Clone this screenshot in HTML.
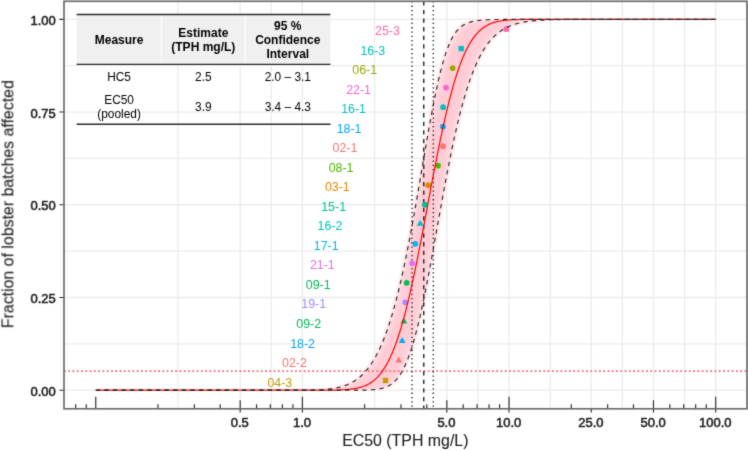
<!DOCTYPE html>
<html><head><meta charset="utf-8"><style>
html,body{margin:0;padding:0;background:#fff;}
body{width:748px;height:451px;overflow:hidden;}
svg{display:block;font-family:"Liberation Sans",sans-serif;}
</style></head><body>
<svg width="748" height="451" viewBox="0 0 748 451">
<defs><clipPath id="pc"><rect x="64.00" y="1.30" width="683.00" height="407.50"/></clipPath>
<filter id="bl" x="-20%" y="-20%" width="140%" height="140%"><feGaussianBlur stdDeviation="1.5"/></filter>
<filter id="bl2" x="-20%" y="-20%" width="140%" height="140%"><feGaussianBlur stdDeviation="2.0"/></filter>
<clipPath id="rc"><rect x="0" y="19.00" width="748" height="371.50"/></clipPath>
<filter id="gb" x="0" y="0" width="748" height="451" filterUnits="userSpaceOnUse" color-interpolation-filters="sRGB"><feConvolveMatrix order="3" kernelMatrix="1 6 1 6 36 6 1 6 1" divisor="64" edgeMode="duplicate"/></filter></defs>
<g filter="url(#gb)">
<rect width="748" height="451" fill="#fff"/>
<g clip-path="url(#pc)">
<line x1="177.98" y1="1.3" x2="177.98" y2="408.8" stroke="#EBEBEB" stroke-width="1.25"/>
<line x1="271.30" y1="1.3" x2="271.30" y2="408.8" stroke="#EBEBEB" stroke-width="1.25"/>
<line x1="374.62" y1="1.3" x2="374.62" y2="408.8" stroke="#EBEBEB" stroke-width="1.25"/>
<line x1="477.95" y1="1.3" x2="477.95" y2="408.8" stroke="#EBEBEB" stroke-width="1.25"/>
<line x1="550.17" y1="1.3" x2="550.17" y2="408.8" stroke="#EBEBEB" stroke-width="1.25"/>
<line x1="622.39" y1="1.3" x2="622.39" y2="408.8" stroke="#EBEBEB" stroke-width="1.25"/>
<line x1="684.60" y1="1.3" x2="684.60" y2="408.8" stroke="#EBEBEB" stroke-width="1.25"/>
<line x1="64.0" y1="343.84" x2="747.0" y2="343.84" stroke="#EBEBEB" stroke-width="1.25"/>
<line x1="64.0" y1="251.11" x2="747.0" y2="251.11" stroke="#EBEBEB" stroke-width="1.25"/>
<line x1="64.0" y1="158.39" x2="747.0" y2="158.39" stroke="#EBEBEB" stroke-width="1.25"/>
<line x1="64.0" y1="65.66" x2="747.0" y2="65.66" stroke="#EBEBEB" stroke-width="1.25"/>
<line x1="240.19" y1="1.3" x2="240.19" y2="408.8" stroke="#EBEBEB" stroke-width="1.3"/>
<line x1="302.40" y1="1.3" x2="302.40" y2="408.8" stroke="#EBEBEB" stroke-width="1.3"/>
<line x1="446.84" y1="1.3" x2="446.84" y2="408.8" stroke="#EBEBEB" stroke-width="1.3"/>
<line x1="509.05" y1="1.3" x2="509.05" y2="408.8" stroke="#EBEBEB" stroke-width="1.3"/>
<line x1="591.28" y1="1.3" x2="591.28" y2="408.8" stroke="#EBEBEB" stroke-width="1.3"/>
<line x1="653.49" y1="1.3" x2="653.49" y2="408.8" stroke="#EBEBEB" stroke-width="1.3"/>
<line x1="715.70" y1="1.3" x2="715.70" y2="408.8" stroke="#EBEBEB" stroke-width="1.3"/>
<line x1="64.0" y1="390.20" x2="747.0" y2="390.20" stroke="#EBEBEB" stroke-width="1.3"/>
<line x1="64.0" y1="297.48" x2="747.0" y2="297.48" stroke="#EBEBEB" stroke-width="1.3"/>
<line x1="64.0" y1="204.75" x2="747.0" y2="204.75" stroke="#EBEBEB" stroke-width="1.3"/>
<line x1="64.0" y1="112.03" x2="747.0" y2="112.03" stroke="#EBEBEB" stroke-width="1.3"/>
<line x1="64.0" y1="19.30" x2="747.0" y2="19.30" stroke="#EBEBEB" stroke-width="1.3"/>
<g clip-path="url(#rc)">
<path d="M306.46,390.14 L306.87,390.14 L307.28,390.13 L307.71,390.12 L308.15,390.11 L308.60,390.11 L309.06,390.10 L309.54,390.09 L310.03,390.08 L310.53,390.07 L311.04,390.06 L311.56,390.04 L312.09,390.03 L312.63,390.01 L313.18,390.00 L313.74,389.98 L314.32,389.96 L314.90,389.94 L315.49,389.91 L316.09,389.89 L316.69,389.86 L317.31,389.83 L317.94,389.80 L318.57,389.77 L319.21,389.73 L319.86,389.70 L320.52,389.65 L321.18,389.61 L321.85,389.56 L322.53,389.51 L323.22,389.46 L323.91,389.40 L324.61,389.34 L325.31,389.27 L326.03,389.20 L326.74,389.12 L327.47,389.04 L328.19,388.95 L328.93,388.85 L329.67,388.75 L330.41,388.65 L331.16,388.53 L331.92,388.41 L332.67,388.28 L333.44,388.15 L334.20,388.00 L334.97,387.85 L335.75,387.68 L336.53,387.51 L337.31,387.32 L338.10,387.13 L338.88,386.92 L339.68,386.70 L340.47,386.47 L341.27,386.22 L342.07,385.96 L342.87,385.68 L343.68,385.39 L344.48,385.09 L345.29,384.76 L346.10,384.42 L346.92,384.07 L347.73,383.69 L348.55,383.29 L349.36,382.87 L350.18,382.43 L351.00,381.97 L351.82,381.49 L352.65,380.98 L353.47,380.45 L354.29,379.89 L355.11,379.31 L355.94,378.70 L356.76,378.06 L357.59,377.39 L358.41,376.70 L359.23,375.97 L360.06,375.21 L360.88,374.42 L361.71,373.59 L362.53,372.73 L363.35,371.83 L364.17,370.90 L364.99,369.93 L365.81,368.92 L366.63,367.88 L367.45,366.79 L368.26,365.66 L369.08,364.49 L369.89,363.28 L370.70,362.03 L371.51,360.73 L372.32,359.38 L373.13,357.99 L373.93,356.56 L374.74,355.08 L375.54,353.55 L376.34,351.97 L377.13,350.34 L377.93,348.67 L378.72,346.94 L379.51,345.16 L380.30,343.34 L381.08,341.46 L381.86,339.53 L382.64,337.55 L383.42,335.52 L384.20,333.43 L384.97,331.29 L385.74,329.11 L386.50,326.87 L387.27,324.57 L388.02,322.23 L388.78,319.83 L389.54,317.39 L390.29,314.89 L391.03,312.34 L391.78,309.74 L392.52,307.09 L393.26,304.40 L393.99,301.65 L394.72,298.86 L395.45,296.02 L396.17,293.14 L396.89,290.21 L397.61,287.24 L398.32,284.22 L399.03,281.16 L399.74,278.07 L400.44,274.93 L401.14,271.76 L401.83,268.55 L402.52,265.31 L403.21,262.03 L403.90,258.72 L404.58,255.38 L405.25,252.02 L405.93,248.63 L406.59,245.21 L407.26,241.77 L407.92,238.31 L408.58,234.83 L409.23,231.33 L409.88,227.82 L410.53,224.29 L411.17,220.75 L411.81,217.21 L412.45,213.65 L413.08,210.09 L413.71,206.53 L414.33,202.97 L414.95,199.41 L415.57,195.85 L416.18,192.29 L416.79,188.75 L417.40,185.21 L418.00,181.68 L418.60,178.17 L419.20,174.67 L419.79,171.19 L420.38,167.73 L420.96,164.29 L421.54,160.87 L422.12,157.48 L422.70,154.12 L423.27,150.78 L423.84,147.47 L424.40,144.19 L424.96,140.95 L425.52,137.74 L426.08,134.57 L426.63,131.43 L427.18,128.34 L427.73,125.28 L428.28,122.26 L428.82,119.29 L429.36,116.36 L429.89,113.48 L430.43,110.64 L430.96,107.85 L431.49,105.10 L432.01,102.41 L432.54,99.76 L433.06,97.16 L433.58,94.61 L434.10,92.11 L434.61,89.67 L435.12,87.27 L435.64,84.93 L436.15,82.63 L436.65,80.39 L437.16,78.21 L437.67,76.07 L438.17,73.98 L438.67,71.95 L439.17,69.97 L439.67,68.04 L440.17,66.16 L440.67,64.34 L441.17,62.56 L441.66,60.83 L442.16,59.16 L442.65,57.53 L443.15,55.95 L443.64,54.42 L444.13,52.94 L444.63,51.51 L445.12,50.12 L445.61,48.77 L446.11,47.47 L446.60,46.22 L447.10,45.01 L447.59,43.84 L448.09,42.71 L448.58,41.62 L449.08,40.58 L449.58,39.57 L450.08,38.60 L450.58,37.67 L451.08,36.77 L451.59,35.91 L452.09,35.08 L452.60,34.29 L453.11,33.53 L453.62,32.80 L454.13,32.11 L454.65,31.44 L455.17,30.80 L455.69,30.19 L456.22,29.61 L456.74,29.05 L457.27,28.52 L457.81,28.01 L458.35,27.53 L458.89,27.07 L459.43,26.63 L459.98,26.21 L460.53,25.81 L461.09,25.43 L461.65,25.08 L462.22,24.74 L462.79,24.41 L463.37,24.11 L463.95,23.82 L464.53,23.54 L465.13,23.28 L465.72,23.03 L466.33,22.80 L466.94,22.58 L467.55,22.37 L468.18,22.18 L468.80,21.99 L469.44,21.82 L470.08,21.65 L470.73,21.50 L471.39,21.35 L472.06,21.22 L472.73,21.09 L473.41,20.97 L474.10,20.85 L474.79,20.75 L475.50,20.65 L476.21,20.55 L476.94,20.46 L477.67,20.38 L478.41,20.30 L479.16,20.23 L479.92,20.16 L480.70,20.10 L481.48,20.04 L482.27,19.99 L483.07,19.94 L483.89,19.89 L484.71,19.85 L485.55,19.80 L486.40,19.77 L487.26,19.73 L488.13,19.70 L489.01,19.67 L489.91,19.64 L490.82,19.61 L491.74,19.59 L492.68,19.56 L493.63,19.54 L494.59,19.52 L495.57,19.50 L496.56,19.49 L497.56,19.47 L498.58,19.46 L499.62,19.44 L500.67,19.43 L501.74,19.42 L502.82,19.41 L503.92,19.40 L505.03,19.39 L506.16,19.39 L507.31,19.38 L508.48,19.37 L509.66,19.36 L510.86,19.36 L582.50,19.36 L581.19,19.36 L579.88,19.37 L578.59,19.38 L577.30,19.39 L576.01,19.39 L574.73,19.40 L573.46,19.41 L572.19,19.42 L570.93,19.43 L569.68,19.44 L568.43,19.46 L567.19,19.47 L565.95,19.49 L564.72,19.50 L563.50,19.52 L562.28,19.54 L561.06,19.56 L559.86,19.59 L558.66,19.61 L557.46,19.64 L556.27,19.67 L555.09,19.70 L553.91,19.73 L552.74,19.77 L551.58,19.80 L550.42,19.85 L549.26,19.89 L548.11,19.94 L546.97,19.99 L545.83,20.04 L544.70,20.10 L543.57,20.16 L542.45,20.23 L541.34,20.30 L540.23,20.38 L539.12,20.46 L538.03,20.55 L536.93,20.65 L535.84,20.75 L534.76,20.85 L533.68,20.97 L532.61,21.09 L531.55,21.22 L530.48,21.35 L529.43,21.50 L528.38,21.65 L527.33,21.82 L526.29,21.99 L525.25,22.18 L524.22,22.37 L523.20,22.58 L522.18,22.80 L521.16,23.03 L520.15,23.28 L519.15,23.54 L518.15,23.82 L517.15,24.11 L516.16,24.41 L515.18,24.74 L514.20,25.08 L513.22,25.43 L512.25,25.81 L511.28,26.21 L510.32,26.63 L509.36,27.07 L508.41,27.53 L507.46,28.01 L506.52,28.52 L505.58,29.05 L504.65,29.61 L503.72,30.19 L502.80,30.80 L501.88,31.44 L500.96,32.11 L500.05,32.80 L499.14,33.53 L498.24,34.29 L497.35,35.08 L496.45,35.91 L495.56,36.77 L494.68,37.67 L493.80,38.60 L492.92,39.57 L492.05,40.58 L491.19,41.62 L490.32,42.71 L489.46,43.84 L488.61,45.01 L487.76,46.22 L486.91,47.47 L486.07,48.77 L485.23,50.12 L484.40,51.51 L483.57,52.94 L482.74,54.42 L481.92,55.95 L481.10,57.53 L480.29,59.16 L479.48,60.83 L478.67,62.56 L477.87,64.34 L477.07,66.16 L476.27,68.04 L475.48,69.97 L474.69,71.95 L473.91,73.98 L473.13,76.07 L472.35,78.21 L471.58,80.39 L470.81,82.63 L470.04,84.93 L469.28,87.27 L468.52,89.67 L467.77,92.11 L467.02,94.61 L466.27,97.16 L465.52,99.76 L464.78,102.41 L464.04,105.10 L463.31,107.85 L462.58,110.64 L461.85,113.48 L461.13,116.36 L460.41,119.29 L459.69,122.26 L458.97,125.28 L458.26,128.34 L457.55,131.43 L456.85,134.57 L456.15,137.74 L455.45,140.95 L454.75,144.19 L454.06,147.47 L453.37,150.78 L452.68,154.12 L452.00,157.48 L451.31,160.87 L450.64,164.29 L449.96,167.73 L449.29,171.19 L448.62,174.67 L447.95,178.17 L447.29,181.68 L446.63,185.21 L445.97,188.75 L445.31,192.29 L444.66,195.85 L444.01,199.41 L443.36,202.97 L442.72,206.53 L442.08,210.09 L441.44,213.65 L440.80,217.21 L440.16,220.75 L439.53,224.29 L438.90,227.82 L438.27,231.33 L437.65,234.83 L437.03,238.31 L436.41,241.77 L435.79,245.21 L435.17,248.63 L434.56,252.02 L433.95,255.38 L433.34,258.72 L432.73,262.03 L432.13,265.31 L431.53,268.55 L430.93,271.76 L430.33,274.93 L429.73,278.07 L429.14,281.16 L428.55,284.22 L427.96,287.24 L427.37,290.21 L426.78,293.14 L426.20,296.02 L425.62,298.86 L425.04,301.65 L424.46,304.40 L423.88,307.09 L423.31,309.74 L422.74,312.34 L422.17,314.89 L421.60,317.39 L421.03,319.83 L420.46,322.23 L419.90,324.57 L419.34,326.87 L418.78,329.11 L418.22,331.29 L417.66,333.43 L417.10,335.52 L416.55,337.55 L416.00,339.53 L415.45,341.46 L414.90,343.34 L414.35,345.16 L413.80,346.94 L413.25,348.67 L412.71,350.34 L412.17,351.97 L411.62,353.55 L411.08,355.08 L410.54,356.56 L410.01,357.99 L409.47,359.38 L408.93,360.73 L408.40,362.03 L407.87,363.28 L407.33,364.49 L406.80,365.66 L406.27,366.79 L405.74,367.88 L405.21,368.92 L404.69,369.93 L404.16,370.90 L403.63,371.83 L403.11,372.73 L402.59,373.59 L402.06,374.42 L401.54,375.21 L401.02,375.97 L400.50,376.70 L399.98,377.39 L399.46,378.06 L398.94,378.70 L398.43,379.31 L397.91,379.89 L397.39,380.45 L396.88,380.98 L396.36,381.49 L395.85,381.97 L395.33,382.43 L394.82,382.87 L394.31,383.29 L393.79,383.69 L393.28,384.07 L392.77,384.42 L392.26,384.76 L391.75,385.09 L391.24,385.39 L390.73,385.68 L390.22,385.96 L389.71,386.22 L389.20,386.47 L388.69,386.70 L388.18,386.92 L387.67,387.13 L387.16,387.32 L386.65,387.51 L386.14,387.68 L385.63,387.85 L385.13,388.00 L384.62,388.15 L384.11,388.28 L383.60,388.41 L383.09,388.53 L382.58,388.65 L382.07,388.75 L381.56,388.85 L381.05,388.95 L380.54,389.04 L380.04,389.12 L379.52,389.20 L379.01,389.27 L378.50,389.34 L377.99,389.40 L377.48,389.46 L376.97,389.51 L376.46,389.56 L375.95,389.61 L375.43,389.65 L374.92,389.70 L374.41,389.73 L373.89,389.77 L373.38,389.80 L372.86,389.83 L372.34,389.86 L371.83,389.89 L371.31,389.91 L370.79,389.94 L370.27,389.96 L369.75,389.98 L369.23,390.00 L368.71,390.01 L368.19,390.03 L367.67,390.04 L367.14,390.06 L366.62,390.07 L366.09,390.08 L365.57,390.09 L365.04,390.10 L364.51,390.11 L363.98,390.11 L363.45,390.12 L362.92,390.13 L362.39,390.14 L361.86,390.14Z" fill="#FFE2E7" filter="url(#bl)"/>
<path d="M311.18,390.14 L311.62,390.14 L312.08,390.13 L312.54,390.12 L313.02,390.11 L313.50,390.11 L314.00,390.10 L314.50,390.09 L315.02,390.08 L315.54,390.07 L316.07,390.06 L316.62,390.04 L317.17,390.03 L317.73,390.01 L318.30,390.00 L318.88,389.98 L319.46,389.96 L320.06,389.94 L320.66,389.91 L321.27,389.89 L321.89,389.86 L322.51,389.83 L323.14,389.80 L323.78,389.77 L324.43,389.73 L325.08,389.70 L325.74,389.65 L326.40,389.61 L327.07,389.56 L327.75,389.51 L328.43,389.46 L329.12,389.40 L329.82,389.34 L330.52,389.27 L331.22,389.20 L331.93,389.12 L332.65,389.04 L333.37,388.95 L334.09,388.85 L334.82,388.75 L335.55,388.65 L336.29,388.53 L337.03,388.41 L337.78,388.28 L338.52,388.15 L339.28,388.00 L340.03,387.85 L340.79,387.68 L341.55,387.51 L342.32,387.32 L343.09,387.13 L343.86,386.92 L344.63,386.70 L345.41,386.47 L346.19,386.22 L346.97,385.96 L347.75,385.68 L348.53,385.39 L349.32,385.09 L350.11,384.76 L350.90,384.42 L351.69,384.07 L352.48,383.69 L353.28,383.29 L354.07,382.87 L354.87,382.43 L355.66,381.97 L356.46,381.49 L357.26,380.98 L358.06,380.45 L358.86,379.89 L359.66,379.31 L360.46,378.70 L361.26,378.06 L362.06,377.39 L362.86,376.70 L363.66,375.97 L364.47,375.21 L365.27,374.42 L366.07,373.59 L366.87,372.73 L367.66,371.83 L368.46,370.90 L369.26,369.93 L370.06,368.92 L370.85,367.88 L371.65,366.79 L372.44,365.66 L373.24,364.49 L374.03,363.28 L374.82,362.03 L375.61,360.73 L376.39,359.38 L377.18,357.99 L377.96,356.56 L378.75,355.08 L379.53,353.55 L380.31,351.97 L381.09,350.34 L381.86,348.67 L382.64,346.94 L383.41,345.16 L384.18,343.34 L384.94,341.46 L385.71,339.53 L386.47,337.55 L387.23,335.52 L387.99,333.43 L388.75,331.29 L389.50,329.11 L390.25,326.87 L391.00,324.57 L391.75,322.23 L392.49,319.83 L393.23,317.39 L393.97,314.89 L394.71,312.34 L395.44,309.74 L396.17,307.09 L396.90,304.40 L397.62,301.65 L398.34,298.86 L399.06,296.02 L399.78,293.14 L400.49,290.21 L401.20,287.24 L401.91,284.22 L402.61,281.16 L403.31,278.07 L404.01,274.93 L404.70,271.76 L405.39,268.55 L406.08,265.31 L406.77,262.03 L407.45,258.72 L408.13,255.38 L408.80,252.02 L409.47,248.63 L410.14,245.21 L410.81,241.77 L411.47,238.31 L412.13,234.83 L412.79,231.33 L413.44,227.82 L414.09,224.29 L414.74,220.75 L415.38,217.21 L416.02,213.65 L416.66,210.09 L417.29,206.53 L417.92,202.97 L418.55,199.41 L419.18,195.85 L419.80,192.29 L420.42,188.75 L421.03,185.21 L421.64,181.68 L422.25,178.17 L422.86,174.67 L423.46,171.19 L424.06,167.73 L424.66,164.29 L425.26,160.87 L425.85,157.48 L426.44,154.12 L427.02,150.78 L427.61,147.47 L428.19,144.19 L428.77,140.95 L429.34,137.74 L429.92,134.57 L430.49,131.43 L431.06,128.34 L431.62,125.28 L432.18,122.26 L432.74,119.29 L433.30,116.36 L433.86,113.48 L434.41,110.64 L434.97,107.85 L435.52,105.10 L436.06,102.41 L436.61,99.76 L437.15,97.16 L437.70,94.61 L438.24,92.11 L438.77,89.67 L439.31,87.27 L439.85,84.93 L440.38,82.63 L440.91,80.39 L441.44,78.21 L441.97,76.07 L442.50,73.98 L443.03,71.95 L443.55,69.97 L444.08,68.04 L444.60,66.16 L445.13,64.34 L445.65,62.56 L446.17,60.83 L446.69,59.16 L447.21,57.53 L447.73,55.95 L448.25,54.42 L448.77,52.94 L449.29,51.51 L449.81,50.12 L450.33,48.77 L450.85,47.47 L451.37,46.22 L451.90,45.01 L452.42,43.84 L452.94,42.71 L453.46,41.62 L453.98,40.58 L454.51,39.57 L455.03,38.60 L455.56,37.67 L456.09,36.77 L456.62,35.91 L457.15,35.08 L457.68,34.29 L458.21,33.53 L458.75,32.80 L459.28,32.11 L459.82,31.44 L460.36,30.80 L460.91,30.19 L461.45,29.61 L462.00,29.05 L462.55,28.52 L463.11,28.01 L463.67,27.53 L464.23,27.07 L464.79,26.63 L465.36,26.21 L465.93,25.81 L466.50,25.43 L467.08,25.08 L467.66,24.74 L468.25,24.41 L468.84,24.11 L469.43,23.82 L470.03,23.54 L470.63,23.28 L471.24,23.03 L471.86,22.80 L472.47,22.58 L473.10,22.37 L473.73,22.18 L474.36,21.99 L475.00,21.82 L475.65,21.65 L476.30,21.50 L476.96,21.35 L477.63,21.22 L478.30,21.09 L478.98,20.97 L479.66,20.85 L480.36,20.75 L481.06,20.65 L481.76,20.55 L482.48,20.46 L483.20,20.38 L483.93,20.30 L484.67,20.23 L485.42,20.16 L486.18,20.10 L486.94,20.04 L487.71,19.99 L488.50,19.94 L489.29,19.89 L490.09,19.85 L490.90,19.80 L491.72,19.77 L492.55,19.73 L493.40,19.70 L494.25,19.67 L495.11,19.64 L495.98,19.61 L496.87,19.59 L497.76,19.56 L498.67,19.54 L499.59,19.52 L500.52,19.50 L501.46,19.49 L502.42,19.47 L503.39,19.46 L504.37,19.44 L505.36,19.43 L506.37,19.42 L507.39,19.41 L508.42,19.40 L509.47,19.39 L510.53,19.39 L511.61,19.38 L512.70,19.37 L513.80,19.36 L514.92,19.36 L572.76,19.36 L571.55,19.36 L570.34,19.37 L569.13,19.38 L567.93,19.39 L566.74,19.39 L565.55,19.40 L564.37,19.41 L563.20,19.42 L562.02,19.43 L560.86,19.44 L559.70,19.46 L558.54,19.47 L557.39,19.49 L556.24,19.50 L555.10,19.52 L553.96,19.54 L552.83,19.56 L551.71,19.59 L550.59,19.61 L549.47,19.64 L548.36,19.67 L547.25,19.70 L546.15,19.73 L545.06,19.77 L543.97,19.80 L542.88,19.85 L541.80,19.89 L540.72,19.94 L539.65,19.99 L538.58,20.04 L537.52,20.10 L536.46,20.16 L535.41,20.23 L534.36,20.30 L533.32,20.38 L532.28,20.46 L531.24,20.55 L530.21,20.65 L529.19,20.75 L528.17,20.85 L527.15,20.97 L526.14,21.09 L525.13,21.22 L524.13,21.35 L523.13,21.50 L522.14,21.65 L521.15,21.82 L520.16,21.99 L519.18,22.18 L518.21,22.37 L517.24,22.58 L516.27,22.80 L515.30,23.03 L514.35,23.28 L513.39,23.54 L512.44,23.82 L511.49,24.11 L510.55,24.41 L509.61,24.74 L508.68,25.08 L507.75,25.43 L506.82,25.81 L505.90,26.21 L504.98,26.63 L504.07,27.07 L503.16,27.53 L502.26,28.01 L501.35,28.52 L500.46,29.05 L499.56,29.61 L498.67,30.19 L497.79,30.80 L496.90,31.44 L496.03,32.11 L495.15,32.80 L494.28,33.53 L493.41,34.29 L492.55,35.08 L491.69,35.91 L490.84,36.77 L489.98,37.67 L489.14,38.60 L488.29,39.57 L487.45,40.58 L486.61,41.62 L485.78,42.71 L484.95,43.84 L484.12,45.01 L483.30,46.22 L482.48,47.47 L481.66,48.77 L480.85,50.12 L480.04,51.51 L479.23,52.94 L478.43,54.42 L477.63,55.95 L476.84,57.53 L476.04,59.16 L475.25,60.83 L474.47,62.56 L473.69,64.34 L472.91,66.16 L472.13,68.04 L471.36,69.97 L470.59,71.95 L469.82,73.98 L469.06,76.07 L468.30,78.21 L467.54,80.39 L466.78,82.63 L466.03,84.93 L465.28,87.27 L464.54,89.67 L463.80,92.11 L463.06,94.61 L462.32,97.16 L461.59,99.76 L460.86,102.41 L460.13,105.10 L459.41,107.85 L458.68,110.64 L457.97,113.48 L457.25,116.36 L456.54,119.29 L455.82,122.26 L455.12,125.28 L454.41,128.34 L453.71,131.43 L453.01,134.57 L452.31,137.74 L451.62,140.95 L450.93,144.19 L450.24,147.47 L449.55,150.78 L448.86,154.12 L448.18,157.48 L447.50,160.87 L446.83,164.29 L446.15,167.73 L445.48,171.19 L444.81,174.67 L444.14,178.17 L443.48,181.68 L442.82,185.21 L442.16,188.75 L441.50,192.29 L440.84,195.85 L440.19,199.41 L439.54,202.97 L438.89,206.53 L438.24,210.09 L437.60,213.65 L436.96,217.21 L436.32,220.75 L435.68,224.29 L435.04,227.82 L434.41,231.33 L433.78,234.83 L433.15,238.31 L432.52,241.77 L431.90,245.21 L431.27,248.63 L430.65,252.02 L430.03,255.38 L429.41,258.72 L428.80,262.03 L428.18,265.31 L427.57,268.55 L426.96,271.76 L426.35,274.93 L425.75,278.07 L425.14,281.16 L424.54,284.22 L423.94,287.24 L423.34,290.21 L422.74,293.14 L422.14,296.02 L421.55,298.86 L420.95,301.65 L420.36,304.40 L419.77,307.09 L419.18,309.74 L418.60,312.34 L418.01,314.89 L417.43,317.39 L416.84,319.83 L416.26,322.23 L415.68,324.57 L415.10,326.87 L414.53,329.11 L413.95,331.29 L413.38,333.43 L412.80,335.52 L412.23,337.55 L411.66,339.53 L411.09,341.46 L410.53,343.34 L409.96,345.16 L409.39,346.94 L408.83,348.67 L408.27,350.34 L407.70,351.97 L407.14,353.55 L406.58,355.08 L406.02,356.56 L405.47,357.99 L404.91,359.38 L404.35,360.73 L403.80,362.03 L403.25,363.28 L402.69,364.49 L402.14,365.66 L401.59,366.79 L401.04,367.88 L400.49,368.92 L399.94,369.93 L399.39,370.90 L398.85,371.83 L398.30,372.73 L397.76,373.59 L397.21,374.42 L396.67,375.21 L396.12,375.97 L395.58,376.70 L395.04,377.39 L394.50,378.06 L393.96,378.70 L393.42,379.31 L392.88,379.89 L392.34,380.45 L391.80,380.98 L391.26,381.49 L390.72,381.97 L390.19,382.43 L389.65,382.87 L389.11,383.29 L388.58,383.69 L388.04,384.07 L387.50,384.42 L386.97,384.76 L386.44,385.09 L385.90,385.39 L385.37,385.68 L384.83,385.96 L384.30,386.22 L383.77,386.47 L383.23,386.70 L382.70,386.92 L382.17,387.13 L381.63,387.32 L381.10,387.51 L380.57,387.68 L380.03,387.85 L379.50,388.00 L378.97,388.15 L378.44,388.28 L377.90,388.41 L377.37,388.53 L376.84,388.65 L376.30,388.75 L375.77,388.85 L375.24,388.95 L374.70,389.04 L374.17,389.12 L373.64,389.20 L373.10,389.27 L372.57,389.34 L372.03,389.40 L371.50,389.46 L370.96,389.51 L370.43,389.56 L369.89,389.61 L369.36,389.65 L368.82,389.70 L368.28,389.73 L367.74,389.77 L367.21,389.80 L366.67,389.83 L366.13,389.86 L365.59,389.89 L365.05,389.91 L364.51,389.94 L363.97,389.96 L363.42,389.98 L362.88,390.00 L362.34,390.01 L361.79,390.03 L361.25,390.04 L360.70,390.06 L360.16,390.07 L359.61,390.08 L359.06,390.09 L358.52,390.10 L357.97,390.11 L357.42,390.11 L356.87,390.12 L356.31,390.13 L355.76,390.14 L355.21,390.14Z" fill="#FFCCD5" filter="url(#bl2)"/>
</g>
<line x1="64.0" y1="371.2" x2="747.0" y2="371.2" stroke="#FA5F6C" stroke-width="1.7" stroke-dasharray="1.7 2.58"/>
<line x1="412.0" y1="1.3" x2="412.0" y2="408.8" stroke="#222" stroke-width="1.4" stroke-dasharray="1.3 3.0"/>
<line x1="433.3" y1="1.3" x2="433.3" y2="408.8" stroke="#222" stroke-width="1.4" stroke-dasharray="1.3 3.0"/>
<line x1="423.75" y1="1.3" x2="423.75" y2="408.8" stroke="#222" stroke-width="1.4" stroke-dasharray="4.3 4.3"/>
<rect x="503.70" y="26.36" width="5.4" height="5.4" fill="#FF66A8"/>
<rect x="458.50" y="45.88" width="5.4" height="5.4" fill="#00BFC4"/>
<circle cx="452.70" cy="68.10" r="2.9" fill="#99A800"/>
<circle cx="446.10" cy="87.62" r="2.9" fill="#FB61D7"/>
<circle cx="443.10" cy="107.14" r="2.9" fill="#00BFC4"/>
<circle cx="442.90" cy="126.67" r="2.9" fill="#06A4FF"/>
<circle cx="443.00" cy="146.19" r="2.9" fill="#F8766D"/>
<circle cx="438.00" cy="165.71" r="2.9" fill="#53B400"/>
<circle cx="428.20" cy="185.23" r="2.9" fill="#E38900"/>
<circle cx="424.90" cy="204.75" r="2.9" fill="#00C094"/>
<path d="M420.20,219.77 L423.66,225.77 L416.74,225.77Z" fill="#00BFC4"/>
<circle cx="415.30" cy="243.79" r="2.9" fill="#00B6EB"/>
<circle cx="412.20" cy="263.31" r="2.9" fill="#DF70F8"/>
<circle cx="406.70" cy="282.83" r="2.9" fill="#00BC56"/>
<circle cx="405.30" cy="302.36" r="2.9" fill="#A58AFF"/>
<path d="M403.90,317.38 L407.36,323.38 L400.44,323.38Z" fill="#00BC56"/>
<path d="M402.20,336.90 L405.66,342.90 L398.74,342.90Z" fill="#06A4FF"/>
<path d="M398.80,356.42 L402.26,362.42 L395.34,362.42Z" fill="#F8766D"/>
<rect x="382.80" y="377.74" width="5.4" height="5.4" fill="#C49A00"/>
<path d="M95.75,390.20 L327.72,390.14 L328.39,390.14 L329.06,390.13 L329.73,390.12 L330.40,390.11 L331.07,390.11 L331.74,390.10 L332.40,390.09 L333.07,390.08 L333.74,390.07 L334.41,390.06 L335.08,390.04 L335.75,390.03 L336.42,390.01 L337.09,390.00 L337.76,389.98 L338.43,389.96 L339.09,389.94 L339.76,389.91 L340.43,389.89 L341.10,389.86 L341.77,389.83 L342.44,389.80 L343.11,389.77 L343.78,389.73 L344.45,389.70 L345.12,389.65 L345.79,389.61 L346.45,389.56 L347.12,389.51 L347.79,389.46 L348.46,389.40 L349.13,389.34 L349.80,389.27 L350.47,389.20 L351.14,389.12 L351.81,389.04 L352.48,388.95 L353.14,388.85 L353.81,388.75 L354.48,388.65 L355.15,388.53 L355.82,388.41 L356.49,388.28 L357.16,388.15 L357.83,388.00 L358.50,387.85 L359.17,387.68 L359.84,387.51 L360.50,387.32 L361.17,387.13 L361.84,386.92 L362.51,386.70 L363.18,386.47 L363.85,386.22 L364.52,385.96 L365.19,385.68 L365.86,385.39 L366.53,385.09 L367.19,384.76 L367.86,384.42 L368.53,384.07 L369.20,383.69 L369.87,383.29 L370.54,382.87 L371.21,382.43 L371.88,381.97 L372.55,381.49 L373.22,380.98 L373.89,380.45 L374.55,379.89 L375.22,379.31 L375.89,378.70 L376.56,378.06 L377.23,377.39 L377.90,376.70 L378.57,375.97 L379.24,375.21 L379.91,374.42 L380.58,373.59 L381.24,372.73 L381.91,371.83 L382.58,370.90 L383.25,369.93 L383.92,368.92 L384.59,367.88 L385.26,366.79 L385.93,365.66 L386.60,364.49 L387.27,363.28 L387.94,362.03 L388.60,360.73 L389.27,359.38 L389.94,357.99 L390.61,356.56 L391.28,355.08 L391.95,353.55 L392.62,351.97 L393.29,350.34 L393.96,348.67 L394.63,346.94 L395.29,345.16 L395.96,343.34 L396.63,341.46 L397.30,339.53 L397.97,337.55 L398.64,335.52 L399.31,333.43 L399.98,331.29 L400.65,329.11 L401.32,326.87 L401.99,324.57 L402.65,322.23 L403.32,319.83 L403.99,317.39 L404.66,314.89 L405.33,312.34 L406.00,309.74 L406.67,307.09 L407.34,304.40 L408.01,301.65 L408.68,298.86 L409.34,296.02 L410.01,293.14 L410.68,290.21 L411.35,287.24 L412.02,284.22 L412.69,281.16 L413.36,278.07 L414.03,274.93 L414.70,271.76 L415.37,268.55 L416.04,265.31 L416.70,262.03 L417.37,258.72 L418.04,255.38 L418.71,252.02 L419.38,248.63 L420.05,245.21 L420.72,241.77 L421.39,238.31 L422.06,234.83 L422.73,231.33 L423.39,227.82 L424.06,224.29 L424.73,220.75 L425.40,217.21 L426.07,213.65 L426.74,210.09 L427.41,206.53 L428.08,202.97 L428.75,199.41 L429.42,195.85 L430.09,192.29 L430.75,188.75 L431.42,185.21 L432.09,181.68 L432.76,178.17 L433.43,174.67 L434.10,171.19 L434.77,167.73 L435.44,164.29 L436.11,160.87 L436.78,157.48 L437.44,154.12 L438.11,150.78 L438.78,147.47 L439.45,144.19 L440.12,140.95 L440.79,137.74 L441.46,134.57 L442.13,131.43 L442.80,128.34 L443.47,125.28 L444.14,122.26 L444.80,119.29 L445.47,116.36 L446.14,113.48 L446.81,110.64 L447.48,107.85 L448.15,105.10 L448.82,102.41 L449.49,99.76 L450.16,97.16 L450.83,94.61 L451.49,92.11 L452.16,89.67 L452.83,87.27 L453.50,84.93 L454.17,82.63 L454.84,80.39 L455.51,78.21 L456.18,76.07 L456.85,73.98 L457.52,71.95 L458.19,69.97 L458.85,68.04 L459.52,66.16 L460.19,64.34 L460.86,62.56 L461.53,60.83 L462.20,59.16 L462.87,57.53 L463.54,55.95 L464.21,54.42 L464.88,52.94 L465.54,51.51 L466.21,50.12 L466.88,48.77 L467.55,47.47 L468.22,46.22 L468.89,45.01 L469.56,43.84 L470.23,42.71 L470.90,41.62 L471.57,40.58 L472.24,39.57 L472.90,38.60 L473.57,37.67 L474.24,36.77 L474.91,35.91 L475.58,35.08 L476.25,34.29 L476.92,33.53 L477.59,32.80 L478.26,32.11 L478.93,31.44 L479.59,30.80 L480.26,30.19 L480.93,29.61 L481.60,29.05 L482.27,28.52 L482.94,28.01 L483.61,27.53 L484.28,27.07 L484.95,26.63 L485.62,26.21 L486.29,25.81 L486.95,25.43 L487.62,25.08 L488.29,24.74 L488.96,24.41 L489.63,24.11 L490.30,23.82 L490.97,23.54 L491.64,23.28 L492.31,23.03 L492.98,22.80 L493.64,22.58 L494.31,22.37 L494.98,22.18 L495.65,21.99 L496.32,21.82 L496.99,21.65 L497.66,21.50 L498.33,21.35 L499.00,21.22 L499.67,21.09 L500.34,20.97 L501.00,20.85 L501.67,20.75 L502.34,20.65 L503.01,20.55 L503.68,20.46 L504.35,20.38 L505.02,20.30 L505.69,20.23 L506.36,20.16 L507.03,20.10 L507.69,20.04 L508.36,19.99 L509.03,19.94 L509.70,19.89 L510.37,19.85 L511.04,19.80 L511.71,19.77 L512.38,19.73 L513.05,19.70 L513.72,19.67 L514.39,19.64 L515.05,19.61 L515.72,19.59 L516.39,19.56 L517.06,19.54 L517.73,19.52 L518.40,19.50 L519.07,19.49 L519.74,19.47 L520.41,19.46 L521.08,19.44 L521.74,19.43 L522.41,19.42 L523.08,19.41 L523.75,19.40 L524.42,19.39 L525.09,19.39 L525.76,19.38 L526.43,19.37 L527.10,19.36 L527.77,19.36 L715.70,19.30" fill="none" stroke="#FF0000" stroke-width="1.2"/>
<path d="M95.75,390.20 L308.26,390.14 L308.67,390.14 L309.08,390.13 L309.51,390.12 L309.95,390.11 L310.40,390.11 L310.86,390.10 L311.34,390.09 L311.83,390.08 L312.33,390.07 L312.84,390.06 L313.36,390.04 L313.89,390.03 L314.43,390.01 L314.98,390.00 L315.54,389.98 L316.12,389.96 L316.70,389.94 L317.29,389.91 L317.89,389.89 L318.49,389.86 L319.11,389.83 L319.74,389.80 L320.37,389.77 L321.01,389.73 L321.66,389.70 L322.32,389.65 L322.98,389.61 L323.65,389.56 L324.33,389.51 L325.02,389.46 L325.71,389.40 L326.41,389.34 L327.11,389.27 L327.83,389.20 L328.54,389.12 L329.27,389.04 L329.99,388.95 L330.73,388.85 L331.47,388.75 L332.21,388.65 L332.96,388.53 L333.72,388.41 L334.47,388.28 L335.24,388.15 L336.00,388.00 L336.77,387.85 L337.55,387.68 L338.33,387.51 L339.11,387.32 L339.90,387.13 L340.68,386.92 L341.48,386.70 L342.27,386.47 L343.07,386.22 L343.87,385.96 L344.67,385.68 L345.48,385.39 L346.28,385.09 L347.09,384.76 L347.90,384.42 L348.72,384.07 L349.53,383.69 L350.35,383.29 L351.16,382.87 L351.98,382.43 L352.80,381.97 L353.62,381.49 L354.45,380.98 L355.27,380.45 L356.09,379.89 L356.91,379.31 L357.74,378.70 L358.56,378.06 L359.39,377.39 L360.21,376.70 L361.03,375.97 L361.86,375.21 L362.68,374.42 L363.51,373.59 L364.33,372.73 L365.15,371.83 L365.97,370.90 L366.79,369.93 L367.61,368.92 L368.43,367.88 L369.25,366.79 L370.06,365.66 L370.88,364.49 L371.69,363.28 L372.50,362.03 L373.31,360.73 L374.12,359.38 L374.93,357.99 L375.73,356.56 L376.54,355.08 L377.34,353.55 L378.14,351.97 L378.93,350.34 L379.73,348.67 L380.52,346.94 L381.31,345.16 L382.10,343.34 L382.88,341.46 L383.66,339.53 L384.44,337.55 L385.22,335.52 L386.00,333.43 L386.77,331.29 L387.54,329.11 L388.30,326.87 L389.07,324.57 L389.82,322.23 L390.58,319.83 L391.34,317.39 L392.09,314.89 L392.83,312.34 L393.58,309.74 L394.32,307.09 L395.06,304.40 L395.79,301.65 L396.52,298.86 L397.25,296.02 L397.97,293.14 L398.69,290.21 L399.41,287.24 L400.12,284.22 L400.83,281.16 L401.54,278.07 L402.24,274.93 L402.94,271.76 L403.63,268.55 L404.32,265.31 L405.01,262.03 L405.70,258.72 L406.38,255.38 L407.05,252.02 L407.73,248.63 L408.39,245.21 L409.06,241.77 L409.72,238.31 L410.38,234.83 L411.03,231.33 L411.68,227.82 L412.33,224.29 L412.97,220.75 L413.61,217.21 L414.25,213.65 L414.88,210.09 L415.51,206.53 L416.13,202.97 L416.75,199.41 L417.37,195.85 L417.98,192.29 L418.59,188.75 L419.20,185.21 L419.80,181.68 L420.40,178.17 L421.00,174.67 L421.59,171.19 L422.18,167.73 L422.76,164.29 L423.34,160.87 L423.92,157.48 L424.50,154.12 L425.07,150.78 L425.64,147.47 L426.20,144.19 L426.76,140.95 L427.32,137.74 L427.88,134.57 L428.43,131.43 L428.98,128.34 L429.53,125.28 L430.08,122.26 L430.62,119.29 L431.16,116.36 L431.69,113.48 L432.23,110.64 L432.76,107.85 L433.29,105.10 L433.81,102.41 L434.34,99.76 L434.86,97.16 L435.38,94.61 L435.90,92.11 L436.41,89.67 L436.92,87.27 L437.44,84.93 L437.95,82.63 L438.45,80.39 L438.96,78.21 L439.47,76.07 L439.97,73.98 L440.47,71.95 L440.97,69.97 L441.47,68.04 L441.97,66.16 L442.47,64.34 L442.97,62.56 L443.46,60.83 L443.96,59.16 L444.45,57.53 L444.95,55.95 L445.44,54.42 L445.93,52.94 L446.43,51.51 L446.92,50.12 L447.41,48.77 L447.91,47.47 L448.40,46.22 L448.90,45.01 L449.39,43.84 L449.89,42.71 L450.38,41.62 L450.88,40.58 L451.38,39.57 L451.88,38.60 L452.38,37.67 L452.88,36.77 L453.39,35.91 L453.89,35.08 L454.40,34.29 L454.91,33.53 L455.42,32.80 L455.93,32.11 L456.45,31.44 L456.97,30.80 L457.49,30.19 L458.02,29.61 L458.54,29.05 L459.07,28.52 L459.61,28.01 L460.15,27.53 L460.69,27.07 L461.23,26.63 L461.78,26.21 L462.33,25.81 L462.89,25.43 L463.45,25.08 L464.02,24.74 L464.59,24.41 L465.17,24.11 L465.75,23.82 L466.33,23.54 L466.93,23.28 L467.52,23.03 L468.13,22.80 L468.74,22.58 L469.35,22.37 L469.98,22.18 L470.60,21.99 L471.24,21.82 L471.88,21.65 L472.53,21.50 L473.19,21.35 L473.86,21.22 L474.53,21.09 L475.21,20.97 L475.90,20.85 L476.59,20.75 L477.30,20.65 L478.01,20.55 L478.74,20.46 L479.47,20.38 L480.21,20.30 L480.96,20.23 L481.72,20.16 L482.50,20.10 L483.28,20.04 L484.07,19.99 L484.87,19.94 L485.69,19.89 L486.51,19.85 L487.35,19.80 L488.20,19.77 L489.06,19.73 L489.93,19.70 L490.81,19.67 L491.71,19.64 L492.62,19.61 L493.54,19.59 L494.48,19.56 L495.43,19.54 L496.39,19.52 L497.37,19.50 L498.36,19.49 L499.36,19.47 L500.38,19.46 L501.42,19.44 L502.47,19.43 L503.54,19.42 L504.62,19.41 L505.72,19.40 L506.83,19.39 L507.96,19.39 L509.11,19.38 L510.28,19.37 L511.46,19.36 L512.66,19.36 L715.70,19.30" fill="none" stroke="#252525" stroke-width="1.15" stroke-dasharray="4.3 4.3"/>
<path d="M95.75,390.20 L360.06,390.14 L360.59,390.14 L361.12,390.13 L361.65,390.12 L362.18,390.11 L362.71,390.11 L363.24,390.10 L363.77,390.09 L364.29,390.08 L364.82,390.07 L365.34,390.06 L365.87,390.04 L366.39,390.03 L366.91,390.01 L367.43,390.00 L367.95,389.98 L368.47,389.96 L368.99,389.94 L369.51,389.91 L370.03,389.89 L370.54,389.86 L371.06,389.83 L371.58,389.80 L372.09,389.77 L372.61,389.73 L373.12,389.70 L373.63,389.65 L374.15,389.61 L374.66,389.56 L375.17,389.51 L375.68,389.46 L376.19,389.40 L376.70,389.34 L377.21,389.27 L377.72,389.20 L378.24,389.12 L378.74,389.04 L379.25,388.95 L379.76,388.85 L380.27,388.75 L380.78,388.65 L381.29,388.53 L381.80,388.41 L382.31,388.28 L382.82,388.15 L383.33,388.00 L383.83,387.85 L384.34,387.68 L384.85,387.51 L385.36,387.32 L385.87,387.13 L386.38,386.92 L386.89,386.70 L387.40,386.47 L387.91,386.22 L388.42,385.96 L388.93,385.68 L389.44,385.39 L389.95,385.09 L390.46,384.76 L390.97,384.42 L391.48,384.07 L391.99,383.69 L392.51,383.29 L393.02,382.87 L393.53,382.43 L394.05,381.97 L394.56,381.49 L395.08,380.98 L395.59,380.45 L396.11,379.89 L396.63,379.31 L397.14,378.70 L397.66,378.06 L398.18,377.39 L398.70,376.70 L399.22,375.97 L399.74,375.21 L400.26,374.42 L400.79,373.59 L401.31,372.73 L401.83,371.83 L402.36,370.90 L402.89,369.93 L403.41,368.92 L403.94,367.88 L404.47,366.79 L405.00,365.66 L405.53,364.49 L406.07,363.28 L406.60,362.03 L407.13,360.73 L407.67,359.38 L408.21,357.99 L408.74,356.56 L409.28,355.08 L409.82,353.55 L410.37,351.97 L410.91,350.34 L411.45,348.67 L412.00,346.94 L412.55,345.16 L413.10,343.34 L413.65,341.46 L414.20,339.53 L414.75,337.55 L415.30,335.52 L415.86,333.43 L416.42,331.29 L416.98,329.11 L417.54,326.87 L418.10,324.57 L418.66,322.23 L419.23,319.83 L419.80,317.39 L420.37,314.89 L420.94,312.34 L421.51,309.74 L422.08,307.09 L422.66,304.40 L423.24,301.65 L423.82,298.86 L424.40,296.02 L424.98,293.14 L425.57,290.21 L426.16,287.24 L426.75,284.22 L427.34,281.16 L427.93,278.07 L428.53,274.93 L429.13,271.76 L429.73,268.55 L430.33,265.31 L430.93,262.03 L431.54,258.72 L432.15,255.38 L432.76,252.02 L433.37,248.63 L433.99,245.21 L434.61,241.77 L435.23,238.31 L435.85,234.83 L436.47,231.33 L437.10,227.82 L437.73,224.29 L438.36,220.75 L439.00,217.21 L439.64,213.65 L440.28,210.09 L440.92,206.53 L441.56,202.97 L442.21,199.41 L442.86,195.85 L443.51,192.29 L444.17,188.75 L444.83,185.21 L445.49,181.68 L446.15,178.17 L446.82,174.67 L447.49,171.19 L448.16,167.73 L448.84,164.29 L449.51,160.87 L450.20,157.48 L450.88,154.12 L451.57,150.78 L452.26,147.47 L452.95,144.19 L453.65,140.95 L454.35,137.74 L455.05,134.57 L455.75,131.43 L456.46,128.34 L457.17,125.28 L457.89,122.26 L458.61,119.29 L459.33,116.36 L460.05,113.48 L460.78,110.64 L461.51,107.85 L462.24,105.10 L462.98,102.41 L463.72,99.76 L464.47,97.16 L465.22,94.61 L465.97,92.11 L466.72,89.67 L467.48,87.27 L468.24,84.93 L469.01,82.63 L469.78,80.39 L470.55,78.21 L471.33,76.07 L472.11,73.98 L472.89,71.95 L473.68,69.97 L474.47,68.04 L475.27,66.16 L476.07,64.34 L476.87,62.56 L477.68,60.83 L478.49,59.16 L479.30,57.53 L480.12,55.95 L480.94,54.42 L481.77,52.94 L482.60,51.51 L483.43,50.12 L484.27,48.77 L485.11,47.47 L485.96,46.22 L486.81,45.01 L487.66,43.84 L488.52,42.71 L489.39,41.62 L490.25,40.58 L491.12,39.57 L492.00,38.60 L492.88,37.67 L493.76,36.77 L494.65,35.91 L495.55,35.08 L496.44,34.29 L497.34,33.53 L498.25,32.80 L499.16,32.11 L500.08,31.44 L501.00,30.80 L501.92,30.19 L502.85,29.61 L503.78,29.05 L504.72,28.52 L505.66,28.01 L506.61,27.53 L507.56,27.07 L508.52,26.63 L509.48,26.21 L510.45,25.81 L511.42,25.43 L512.40,25.08 L513.38,24.74 L514.36,24.41 L515.35,24.11 L516.35,23.82 L517.35,23.54 L518.35,23.28 L519.36,23.03 L520.38,22.80 L521.40,22.58 L522.42,22.37 L523.45,22.18 L524.49,21.99 L525.53,21.82 L526.58,21.65 L527.63,21.50 L528.68,21.35 L529.75,21.22 L530.81,21.09 L531.88,20.97 L532.96,20.85 L534.04,20.75 L535.13,20.65 L536.23,20.55 L537.32,20.46 L538.43,20.38 L539.54,20.30 L540.65,20.23 L541.77,20.16 L542.90,20.10 L544.03,20.04 L545.17,19.99 L546.31,19.94 L547.46,19.89 L548.62,19.85 L549.78,19.80 L550.94,19.77 L552.11,19.73 L553.29,19.70 L554.47,19.67 L555.66,19.64 L556.86,19.61 L558.06,19.59 L559.26,19.56 L560.48,19.54 L561.70,19.52 L562.92,19.50 L564.15,19.49 L565.39,19.47 L566.63,19.46 L567.88,19.44 L569.13,19.43 L570.39,19.42 L571.66,19.41 L572.93,19.40 L574.21,19.39 L575.50,19.39 L576.79,19.38 L578.08,19.37 L579.39,19.36 L580.70,19.36 L715.70,19.30" fill="none" stroke="#252525" stroke-width="1.15" stroke-dasharray="4.3 4.3"/>
<text x="399.89" y="35.16" font-size="12.4" fill="#FF66A8" text-anchor="end">25-3</text>
<text x="385.28" y="54.68" font-size="12.4" fill="#00BFC4" text-anchor="end">16-3</text>
<text x="377.13" y="74.20" font-size="12.4" fill="#99A800" text-anchor="end">06-1</text>
<text x="371.03" y="93.72" font-size="12.4" fill="#FB61D7" text-anchor="end">22-1</text>
<text x="365.95" y="113.24" font-size="12.4" fill="#00BFC4" text-anchor="end">16-1</text>
<text x="361.46" y="132.77" font-size="12.4" fill="#06A4FF" text-anchor="end">18-1</text>
<text x="357.34" y="152.29" font-size="12.4" fill="#F8766D" text-anchor="end">02-1</text>
<text x="353.46" y="171.81" font-size="12.4" fill="#53B400" text-anchor="end">08-1</text>
<text x="349.72" y="191.33" font-size="12.4" fill="#E38900" text-anchor="end">03-1</text>
<text x="346.04" y="210.85" font-size="12.4" fill="#00C094" text-anchor="end">15-1</text>
<text x="342.37" y="230.37" font-size="12.4" fill="#00BFC4" text-anchor="end">16-2</text>
<text x="338.63" y="249.89" font-size="12.4" fill="#00B6EB" text-anchor="end">17-1</text>
<text x="334.74" y="269.41" font-size="12.4" fill="#DF70F8" text-anchor="end">21-1</text>
<text x="330.63" y="288.93" font-size="12.4" fill="#00BC56" text-anchor="end">09-1</text>
<text x="326.14" y="308.46" font-size="12.4" fill="#A58AFF" text-anchor="end">19-1</text>
<text x="321.05" y="327.98" font-size="12.4" fill="#00BC56" text-anchor="end">09-2</text>
<text x="314.95" y="347.50" font-size="12.4" fill="#06A4FF" text-anchor="end">18-2</text>
<text x="306.81" y="367.02" font-size="12.4" fill="#F8766D" text-anchor="end">02-2</text>
<text x="292.20" y="386.54" font-size="12.4" fill="#C49A00" text-anchor="end">04-3</text>
</g>
<path d="M75.72,408.8 V404.20 M86.29,408.8 V404.20 M95.75,408.8 V396.80 M157.96,408.8 V404.20 M194.35,408.8 V404.20 M220.17,408.8 V404.20 M240.19,408.8 V400.30 M256.55,408.8 V404.20 M270.39,408.8 V404.20 M282.37,408.8 V404.20 M292.94,408.8 V404.20 M302.40,408.8 V396.80 M364.61,408.8 V404.20 M401.00,408.8 V404.20 M426.82,408.8 V404.20 M446.84,408.8 V400.30 M463.20,408.8 V404.20 M477.04,408.8 V404.20 M489.02,408.8 V404.20 M499.59,408.8 V404.20 M509.05,408.8 V396.80 M571.26,408.8 V404.20 M607.65,408.8 V404.20 M633.47,408.8 V404.20 M653.49,408.8 V400.30 M669.85,408.8 V404.20 M683.69,408.8 V404.20 M695.67,408.8 V404.20 M706.24,408.8 V404.20 M715.70,408.8 V396.80" stroke="#2a2a2a" stroke-width="1.15"/>
<path d="M240.19,408.8 V412.40 M302.40,408.8 V412.40 M446.84,408.8 V412.40 M509.05,408.8 V412.40 M591.28,408.8 V412.40 M653.49,408.8 V412.40 M715.70,408.8 V412.40 M64.0,390.20 H59.40 M64.0,297.48 H59.40 M64.0,204.75 H59.40 M64.0,112.03 H59.40 M64.0,19.30 H59.40" stroke="#2a2a2a" stroke-width="1.15"/>
<rect x="64.0" y="1.3" width="683.0" height="407.5" fill="none" stroke="#6a6a6a" stroke-width="1.65"/>
<text x="239.79" y="427.2" font-size="13" fill="#222" stroke="#222" stroke-width="0.55" text-anchor="middle">0.5</text>
<text x="302.00" y="427.2" font-size="13" fill="#222" stroke="#222" stroke-width="0.55" text-anchor="middle">1.0</text>
<text x="446.44" y="427.2" font-size="13" fill="#222" stroke="#222" stroke-width="0.55" text-anchor="middle">5.0</text>
<text x="508.65" y="427.2" font-size="13" fill="#222" stroke="#222" stroke-width="0.55" text-anchor="middle">10.0</text>
<text x="590.88" y="427.2" font-size="13" fill="#222" stroke="#222" stroke-width="0.55" text-anchor="middle">25.0</text>
<text x="653.09" y="427.2" font-size="13" fill="#222" stroke="#222" stroke-width="0.55" text-anchor="middle">50.0</text>
<text x="715.30" y="427.2" font-size="13" fill="#222" stroke="#222" stroke-width="0.55" text-anchor="middle">100.0</text>
<text x="55.8" y="395.70" font-size="13" fill="#222" stroke="#222" stroke-width="0.55" text-anchor="end">0.00</text>
<text x="55.8" y="302.98" font-size="13" fill="#222" stroke="#222" stroke-width="0.55" text-anchor="end">0.25</text>
<text x="55.8" y="210.25" font-size="13" fill="#222" stroke="#222" stroke-width="0.55" text-anchor="end">0.50</text>
<text x="55.8" y="117.53" font-size="13" fill="#222" stroke="#222" stroke-width="0.55" text-anchor="end">0.75</text>
<text x="55.8" y="24.80" font-size="13" fill="#222" stroke="#222" stroke-width="0.55" text-anchor="end">1.00</text>
<text x="405.3" y="446" font-size="15.9" fill="#222" stroke="#222" stroke-width="0.1" text-anchor="middle">EC50 (TPH mg/L)</text>
<text transform="translate(13.4,204.2) rotate(-90)" x="0" y="0" font-size="15.9" fill="#222" stroke="#222" stroke-width="0.1" text-anchor="middle">Fraction of lobster batches affected</text>
<rect x="76.6" y="14.5" width="253.8" height="49.8" fill="#F0F0F0"/>
<path d="M161.3,14.5 V63.9 M245.2,14.5 V63.9" stroke="#fff" stroke-width="1"/>
<path d="M76.6,14.5 H330.4 M76.6,64.3 H330.4 M76.6,124.2 H330.4" stroke="#2a2a2a" stroke-width="1.35"/>
<text x="119.1" y="43.7" font-size="12" text-anchor="middle" font-weight="bold" fill="#000">Measure</text>
<text x="203.3" y="36.7" font-size="12" text-anchor="middle" font-weight="bold" fill="#000">Estimate</text>
<text x="203.3" y="50.6" font-size="12" text-anchor="middle" font-weight="bold" fill="#000">(TPH mg/L)</text>
<text x="287.8" y="29.6" font-size="12" text-anchor="middle" font-weight="bold" fill="#000">95 %</text>
<text x="287.8" y="43.8" font-size="12" text-anchor="middle" font-weight="bold" fill="#000">Confidence</text>
<text x="287.8" y="58" font-size="12" text-anchor="middle" font-weight="bold" fill="#000">Interval</text>
<text x="119.1" y="81.2" font-size="11.9" text-anchor="middle" fill="#000">HC5</text>
<text x="203.3" y="81.2" font-size="11.9" text-anchor="middle" fill="#000">2.5</text>
<text x="287.8" y="81.2" font-size="11.9" text-anchor="middle" fill="#000">2.0 – 3.1</text>
<text x="119.1" y="104.1" font-size="11.9" text-anchor="middle" fill="#000">EC50</text>
<text x="119.1" y="117.6" font-size="11.9" text-anchor="middle" fill="#000">(pooled)</text>
<text x="203.3" y="111" font-size="11.9" text-anchor="middle" fill="#000">3.9</text>
<text x="287.8" y="111" font-size="11.9" text-anchor="middle" fill="#000">3.4 – 4.3</text>
</g></svg>
</body></html>
